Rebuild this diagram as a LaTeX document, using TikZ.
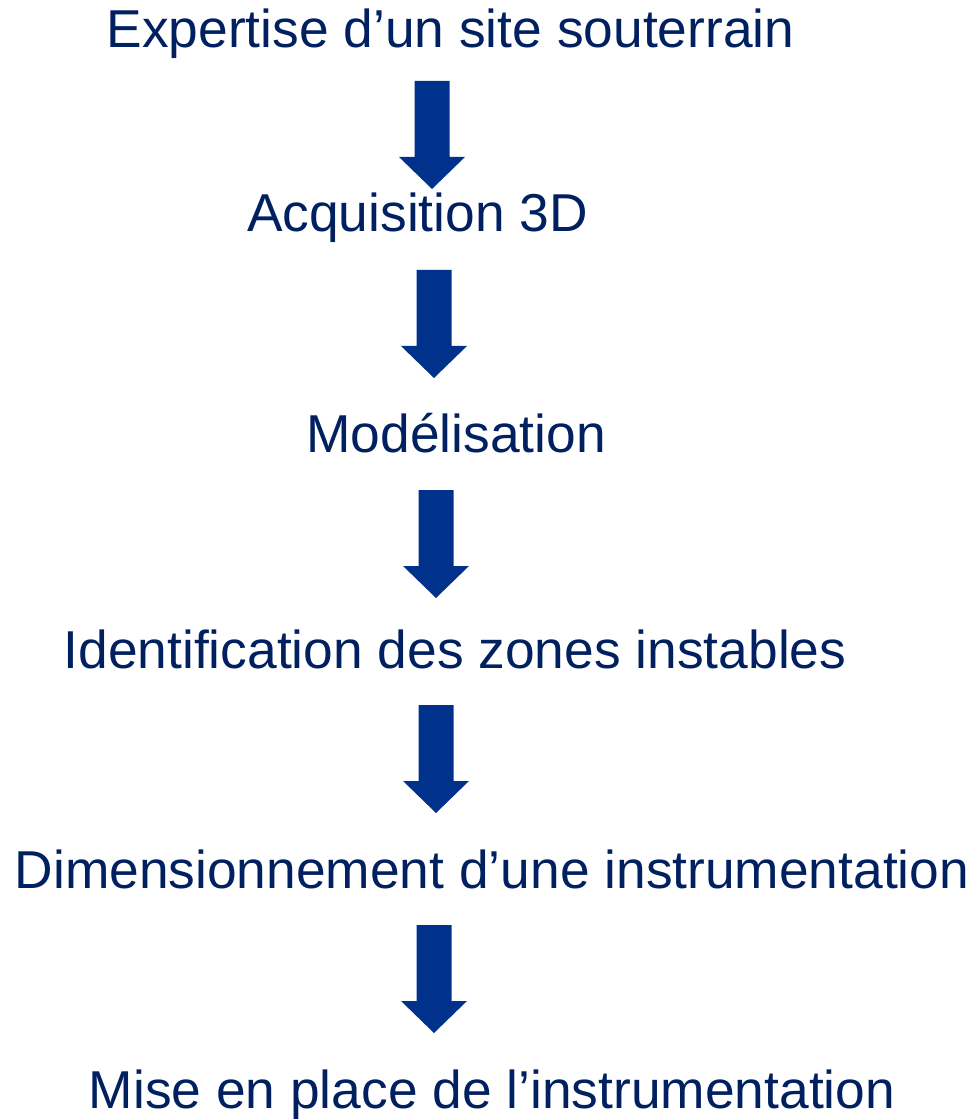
\documentclass[tikz,border=0pt]{standalone}
\usepackage{fontspec}
\setmainfont{Liberation Sans}
\definecolor{txtblue}{RGB}{0,32,96}
\definecolor{arrblue}{RGB}{0,50,140}
\begin{document}
\begin{tikzpicture}[x=0.75pt,y=-0.75pt,
  lbl/.style={anchor=base,inner sep=0pt,text=txtblue,font=\fontsize{40pt}{42pt}\selectfont},
  blockarrow/.style={fill=arrblue,draw=none}]
\useasboundingbox (0,0) rectangle (973,1119);
\node[lbl] (t1) at (450.5,48) {Expertise d’un site souterrain};
\node[lbl] (t2) at (417.5,232) {Acquisition 3D};
\node[lbl] (t3) at (456,452) {Modélisation};
\node[lbl] (t4) at (455,668) {Identification des zones instables};
\node[lbl] (t5) at (492,888) {Dimensionnement d’une instrumentation};
\node[lbl] (t6) at (492,1108) {Mise en place de l’instrumentation};
\foreach \cx/\ty in {432/81,434/270,436/490,436/705,434/925}{
  \fill[blockarrow] (\cx-17.5,\ty) -- (\cx+17.5,\ty) -- (\cx+17.5,\ty+76) -- (\cx+33,\ty+76)
    -- (\cx,\ty+108) -- (\cx-33,\ty+76) -- (\cx-17.5,\ty+76) -- cycle;
}
\end{tikzpicture}
\end{document}
